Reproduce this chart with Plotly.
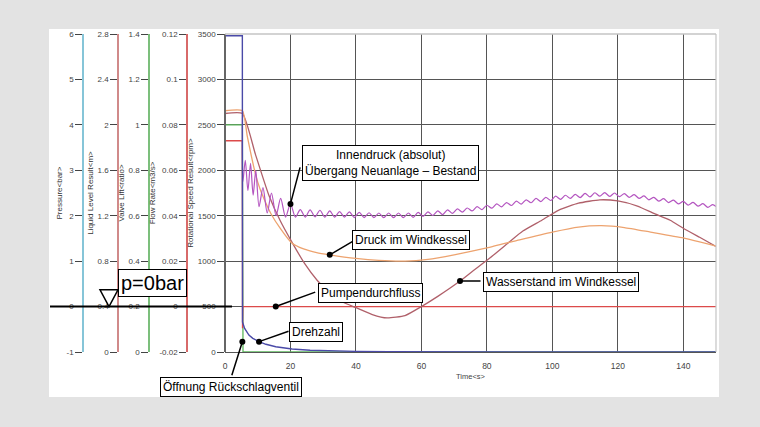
import plotly.graph_objects as go

# page geometry (px)
W, H = 760, 427
M_L, M_R, M_T, M_B = 40, 44, 34, 75
TIME_LEFT_PX = 225

def paper_x(px):
    return (px - M_L) / (W - M_L - M_R)

def paper_y(py):
    return (H - M_B - py) / (H - M_T - M_B)

# ---- data ----
time_speed = [0, 5.3, 5.35, 6.0, 7.3, 8.5, 10.4, 12.5, 15.5, 20.5, 26, 32.7, 40, 50, 60, 80, 100, 150]
speed_rpm = [3480, 3480, 330, 260, 187, 150, 114, 85, 58, 33, 20, 11, 7, 4, 2, 1, 0, 0]

time_flow = [0, 5.3, 5.35, 5.45, 150]
flow_rate = [0.073, 0.073, -0.0095, 0, 0]

time_valve = [0, 5.3, 5.5, 150]
valve_lift = [1.0, 1.0, 0, 0]

time_tank = [0, 5.3, 6.8, 8.8, 10.0, 11.4, 14, 17, 20.4, 24, 28, 32, 40, 47, 55, 62,
             70, 80, 90, 100, 108, 115, 122, 130, 140, 150]
tank_pressure = [4.31, 4.31, 3.75, 3.07, 2.74, 2.46, 2.05, 1.71, 1.40, 1.27, 1.19, 1.14, 1.06,
                 1.015, 1.0, 1.04, 1.14, 1.29, 1.47, 1.64, 1.75, 1.78, 1.74, 1.64, 1.51, 1.33]

time_level = [0, 5.3, 9.3, 13.4, 16.8, 20.4, 24.3, 28.2, 32, 36, 40, 45, 49.5, 55, 60, 65,
              71.8, 76, 81, 86.5, 91, 96.8, 102, 108, 114.5, 120, 126, 131, 136, 140, 145, 150]
water_level = [2.10, 2.10, 1.74, 1.38, 1.16, 0.97, 0.78, 0.63, 0.52, 0.44, 0.39, 0.33, 0.30,
               0.32, 0.40, 0.49, 0.625, 0.72, 0.83, 0.96, 1.065, 1.16, 1.25, 1.31, 1.34, 1.33,
               1.285, 1.22, 1.16, 1.09, 1.01, 0.93]

time_inner = [5.35, 5.45, 6.2, 7.0, 7.8, 8.6, 9.4, 10.4, 11.6, 12.9, 14.2, 15.6, 17.0, 18.5,
              20.0, 21.5, 23.0, 24.5, 26.0, 27.5, 29.0, 30.5, 32.0, 33.5, 35.0, 36.5, 38.0,
              39.5, 41.0, 42.5, 44.0, 45.5, 47.0, 48.5, 50.0, 51.5, 53.0, 54.5, 56.0, 57.5,
              59.0, 60.5, 62.0, 63.5, 65.0, 66.5, 68.0, 69.5, 71.0, 72.5, 74.0, 75.5, 77.0,
              78.5, 80.0, 81.5, 83.0, 84.5, 86.0, 87.5, 89.0, 90.5, 92.0, 93.5, 95.0, 96.5,
              98.0, 99.5, 101.0, 102.5, 104.0, 105.5, 107.0, 108.5, 110.0, 111.5, 113.0,
              114.5, 116.0, 117.5, 119.0, 120.5, 122.0, 123.5, 125.0, 126.5, 128.0, 129.5,
              131.0, 132.5, 134.0, 135.5, 137.0, 138.5, 140.0, 141.5, 143.0, 144.5, 146.0,
              147.5, 149.0, 150.0]
inner_pressure = [4.31, 2.75, 3.22, 2.55, 3.15, 2.45, 3.0, 2.2, 2.62, 2.06, 2.5, 2.0, 2.38, 1.97,
                  2.26, 1.97, 2.135, 1.97, 2.13, 1.975, 2.12, 1.97, 2.105, 1.97, 2.09, 1.97,
                  2.085, 1.96, 2.075, 1.96, 2.065, 1.96, 2.06, 1.96, 2.06, 1.96, 2.06, 1.96,
                  2.06, 1.965, 2.075, 1.985, 2.085, 2.005, 2.105, 2.025, 2.13, 2.05, 2.15, 2.08,
                  2.17, 2.105, 2.20, 2.135, 2.23, 2.165, 2.26, 2.195, 2.29, 2.225, 2.32, 2.255,
                  2.35, 2.285, 2.38, 2.31, 2.405, 2.335, 2.43, 2.36, 2.45, 2.38, 2.47, 2.40,
                  2.49, 2.415, 2.505, 2.43, 2.51, 2.425, 2.50, 2.42, 2.485, 2.405, 2.465, 2.38,
                  2.435, 2.35, 2.405, 2.32, 2.375, 2.29, 2.345, 2.26, 2.315, 2.235, 2.295, 2.21,
                  2.265, 2.185, 2.245, 2.20]

# ---- axes ticks ----
time_ticks = [0, 20, 40, 60, 80, 100, 120, 140]
pressure_ticks = [-1, 0, 1, 2, 3, 4, 5, 6]
pressure_labels = ["-1", "0", "1", "2", "3", "4", "5", "6"]
level_ticks = [0, 0.4, 0.8, 1.2, 1.6, 2.0, 2.4, 2.8]
level_labels = ["0", "0.4", "0.8", "1.2", "1.6", "2", "2.4", "2.8"]
valve_ticks = [0, 0.2, 0.4, 0.6, 0.8, 1.0, 1.2, 1.4]
valve_labels = ["0", "0.2", "0.4", "0.6", "0.8", "1", "1.2", "1.4"]
flow_ticks = [-0.02, 0, 0.02, 0.04, 0.06, 0.08, 0.1, 0.12]
flow_labels = ["-0.02", "0", "0.02", "0.04", "0.06", "0.08", "0.1", "0.12"]
speed_ticks = [0, 500, 1000, 1500, 2000, 2500, 3000, 3500]
speed_labels = [str(v) for v in speed_ticks]

FONT = "Liberation Sans, Arial, sans-serif"
GRID = "#555555"

fig = go.Figure()

# draw order: valve, flow, level, pressure, speed (speed on top)
fig.add_trace(go.Scatter(x=time_valve, y=valve_lift, yaxis="y", mode="lines",
                         line=dict(color="#5cb85c", width=1.3)))
fig.add_trace(go.Scatter(x=time_flow, y=flow_rate, yaxis="y2", mode="lines",
                         line=dict(color="#dc4a4a", width=1.3)))
fig.add_trace(go.Scatter(x=time_level, y=water_level, yaxis="y3", mode="lines",
                         line=dict(color="#b0606a", width=1.3, shape="spline", smoothing=0.5)))
fig.add_trace(go.Scatter(x=time_tank, y=tank_pressure, yaxis="y4", mode="lines",
                         line=dict(color="#eda36f", width=1.3, shape="spline", smoothing=0.5)))
fig.add_trace(go.Scatter(x=time_inner, y=inner_pressure, yaxis="y4", mode="lines",
                         line=dict(color="#b455c0", width=1.2, shape="spline", smoothing=0.8)))
fig.add_trace(go.Scatter(x=time_speed, y=speed_rpm, yaxis="y5", mode="lines",
                         line=dict(color="#4a4aa8", width=1.4)))


def side_axis(title, color, ticks, labels, pos_px, **kw):
    axis = dict(
        title=dict(text=title, font=dict(size=8, color="#333", family=FONT), standoff=2),
        range=[ticks[0], ticks[-1]], tickvals=ticks, ticktext=labels,
        showline=True, linecolor=color, linewidth=1.5,
        ticks="outside", ticklen=7, tickcolor="#444", tickwidth=1,
        tickfont=dict(size=8, color="#444", family=FONT),
        showgrid=False, zeroline=False, anchor="free", position=paper_x(pos_px),
        side="left", automargin=False)
    axis.update(kw)
    return axis


x_start = paper_x(TIME_LEFT_PX)

fig.update_layout(
    width=W, height=H,
    margin=dict(l=M_L, r=M_R, t=M_T, b=M_B),
    paper_bgcolor="#e3e3e3", plot_bgcolor="white",
    showlegend=False,
    font=dict(family=FONT),
    xaxis=dict(domain=[x_start, 1], range=[0, 150], tickvals=time_ticks,
               showgrid=True, gridcolor=GRID, gridwidth=1, zeroline=False,
               showline=True, linecolor=GRID, ticks="", ticklabelstandoff=6,
               tickfont=dict(size=8.5, color="#444", family=FONT),
               title=dict(text="Time&lt;s&gt;", font=dict(size=7.5, color="#444"), standoff=3),
               automargin=False),
    yaxis=side_axis("Valve Lift&lt;ratio&gt;", "#7cbf7c", valve_ticks, valve_labels, 149,
                    showgrid=True, gridcolor=GRID, gridwidth=1),
    yaxis2=side_axis("Flow Rate&lt;m3/s&gt;", "#d86a6a", flow_ticks, flow_labels, 187,
                     overlaying="y"),
    yaxis3=side_axis("Liquid Level Result&lt;m&gt;", "#d08a8a", level_ticks, level_labels, 118,
                     overlaying="y"),
    yaxis4=side_axis("Pressure&lt;bar&gt;", "#86c5d8", pressure_ticks, pressure_labels, 83,
                     overlaying="y"),
    yaxis5=side_axis("Rotational Speed Result&lt;rpm&gt;", "#666666", speed_ticks, speed_labels,
                     TIME_LEFT_PX, overlaying="y"),
)

# white panel, light frame on top/right, p=0 line and marker
fig.add_shape(type="rect", xref="paper", yref="paper", layer="below",
              x0=paper_x(49), x1=paper_x(719), y0=paper_y(397), y1=paper_y(29),
              fillcolor="white", line=dict(width=0))
fig.add_shape(type="line", xref="paper", yref="paper", x0=x_start, x1=1, y0=1, y1=1,
              line=dict(color="#c4c4c4", width=1.5))
fig.add_shape(type="line", xref="paper", yref="paper", x0=1, x1=1, y0=0, y1=1,
              line=dict(color="#c4c4c4", width=1.2))
fig.add_shape(type="line", xref="paper", yref="y4", x0=paper_x(50), x1=paper_x(232), y0=0, y1=0,
              line=dict(color="black", width=2))
fig.add_shape(type="path", xref="paper", yref="y4",
              path=f"M {paper_x(100)},0.37 L {paper_x(118)},0.37 L {paper_x(109)},0 Z",
              fillcolor="white", line=dict(color="black", width=1.5))

# labels: (text, box centre px, font size)
labels = [
    ("Innendruck (absolut)<br>Übergang Neuanlage – Bestand", 390, 163, 12),
    ("Druck im Windkessel", 411, 239.5, 12),
    ("Wasserstand im Windkessel", 561, 281.7, 12),
    ("Pumpendurchfluss", 370, 293, 12),
    ("Drehzahl", 316, 331.7, 12),
    ("Öffnung Rückschlagventil", 231, 387, 12),
    ("p=0bar", 152.8, 283.3, 20),
]
for text, cx, cy, size in labels:
    fig.add_annotation(text=text, xref="paper", yref="paper", x=paper_x(cx), y=paper_y(cy),
                       xanchor="center", yanchor="middle", showarrow=False,
                       font=dict(size=size, color="black", family=FONT),
                       bgcolor="white", bordercolor="black", borderwidth=1, borderpad=2)

# pointer lines with dots: (x, y, yref, ax, ay)
pointers = [
    (20.0, 2.26, "y4", 10, -38),
    (32.0, 1.14, "y4", 24, -14),
    (71.8, 0.625, "y3", 22, 0),
    (15.5, 0.0, "y2", 41, -15),
    (10.4, 114, "y5", 31, -11),
    (5.3, 0.045, "y", -11, 35),
]
for px, py, yref, ax, ay in pointers:
    fig.add_annotation(text="", x=px, y=py, xref="x", yref=yref, ax=ax, ay=ay,
                       showarrow=True, arrowhead=6, arrowsize=1, arrowwidth=1.5,
                       arrowcolor="black", standoff=0)

fig.write_html("out.html", config={"displayModeBar": False},
               post_script="document.body.style.margin='0';"
                           "document.body.style.background='#e3e3e3';")
